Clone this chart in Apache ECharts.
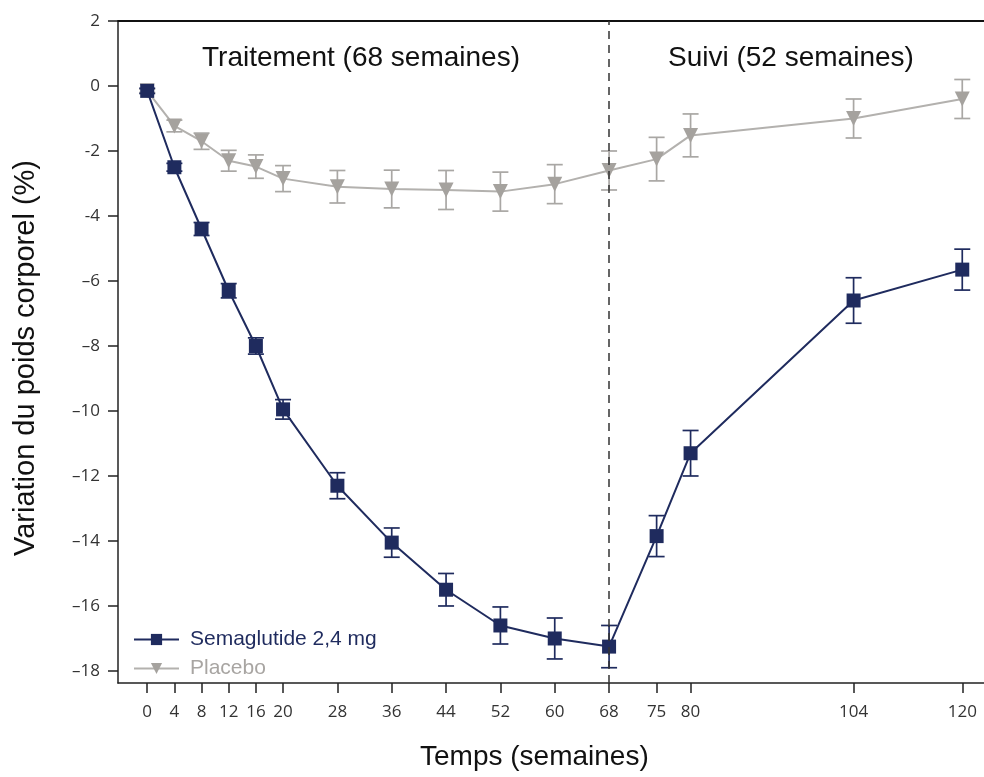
<!DOCTYPE html>
<html>
<head>
<meta charset="utf-8">
<script src="https://cdn.jsdelivr.net/npm/echarts@6/dist/echarts.min.js"></script>
<style>
  html, body { margin: 0; padding: 0; background: #fff; }
  #chart { width: 984px; height: 777px; }
</style>
</head>
<body>
<div id="chart"></div>
<script>
// semaines
var weeks = [0, 4, 8, 12, 16, 20, 28, 36, 44, 52, 60, 68, 75, 80, 104, 120];
var xTicks = [0, 4, 8, 12, 16, 20, 28, 36, 44, 52, 60, 68, 75, 80, 104, 120];
var yTicks = [2, 0, -2, -4, -6, -8, -10, -12, -14, -16, -18];

// Semaglutide 2,4 mg
var semaMean = [-0.15, -2.5, -4.4, -6.3, -8.0, -9.95, -12.3, -14.05, -15.5, -16.6, -17.0, -17.25, -13.85, -11.3, -6.6, -5.65];
var semaErr = [0.08, 0.12, 0.2, 0.22, 0.25, 0.3, 0.4, 0.45, 0.5, 0.57, 0.63, 0.65, 0.63, 0.7, 0.7, 0.63];

// Placebo
var placeboMean = [-0.15, -1.23, -1.7, -2.3, -2.48, -2.85, -3.1, -3.17, -3.2, -3.25, -3.02, -2.6, -2.25, -1.52, -1.0, -0.4];
var placeboErr = [0.05, 0.18, 0.25, 0.32, 0.36, 0.4, 0.5, 0.58, 0.6, 0.6, 0.6, 0.6, 0.67, 0.66, 0.6, 0.6];

var navy = '#1f2b5e';
var grey = '#a9a7a4';

function pairs(ys) {
  return weeks.map(function (w, i) { return [w, ys[i]]; });
}
function errData(ys, es) {
  return weeks.map(function (w, i) { return [w, ys[i] - es[i], ys[i] + es[i]]; });
}
function errorBars(color) {
  return function (params, api) {
    var lo = api.coord([api.value(0), api.value(1)]);
    var hi = api.coord([api.value(0), api.value(2)]);
    var half = 8;
    var st = { stroke: color, lineWidth: 1.7 };
    return {
      type: 'group',
      children: [
        { type: 'line', shape: { x1: lo[0], y1: lo[1], x2: hi[0], y2: hi[1] }, style: st },
        { type: 'line', shape: { x1: lo[0] - half, y1: lo[1], x2: lo[0] + half, y2: lo[1] }, style: st },
        { type: 'line', shape: { x1: hi[0] - half, y1: hi[1], x2: hi[0] + half, y2: hi[1] }, style: st }
      ]
    };
  };
}

var chart = echarts.init(document.getElementById('chart'));
var tickFont = 'Open Sans, DejaVu Sans, sans-serif';
var titleFont = '28px Liberation Sans, Arial, sans-serif';

var option = {
  animation: false,
  backgroundColor: '#fff',
  grid: { left: 118, top: 21, right: 0, bottom: 94 },
  legend: {
    orient: 'vertical',
    left: 128,
    top: 624,
    itemWidth: 45,
    itemHeight: 14,
    itemGap: 8,
    textStyle: { fontSize: 21, fontFamily: 'Liberation Sans, Arial, sans-serif', padding: [0, 0, 0, 6] },
    data: [
      { name: 'Semaglutide 2,4 mg', textStyle: { color: navy } },
      { name: 'Placebo', textStyle: { color: '#a8a5a2' } }
    ]
  },
  graphic: [
    { type: 'text', left: 202, top: 44, style: { text: 'Traitement (68 semaines)', fill: '#111', font: titleFont } },
    { type: 'text', left: 668, top: 44, style: { text: 'Suivi (52 semaines)', fill: '#111', font: titleFont } },
    { type: 'text', left: 420, top: 743, style: { text: 'Temps (semaines)', fill: '#111', font: titleFont } },
    { type: 'text', x: 26, y: 358, rotation: Math.PI / 2, style: { text: 'Variation du poids corporel (%)', fill: '#111', font: '29px Liberation Sans, Arial, sans-serif', align: 'center', verticalAlign: 'middle' } }
  ],
  xAxis: [
    {
      type: 'value',
      min: -4.3,
      max: 123.2,
      splitLine: { show: false },
      axisLine: { onZero: false, lineStyle: { color: '#222', width: 1.5 } },
      axisTick: { customValues: xTicks, length: 10, lineStyle: { color: '#222', width: 1.5 } },
      axisLabel: { customValues: xTicks, fontSize: 17, color: '#333', margin: 21, fontFamily: tickFont }
    },
    {
      type: 'value',
      position: 'top',
      min: -4.3,
      max: 123.2,
      splitLine: { show: false },
      axisLine: { show: true, onZero: false, lineStyle: { color: '#111', width: 2 } },
      axisTick: { show: false },
      axisLabel: { show: false }
    }
  ],
  yAxis: {
    type: 'value',
    min: -18.37,
    max: 2,
    splitLine: { show: false },
    axisLine: { show: true, onZero: false, lineStyle: { color: '#222', width: 1.5 } },
    axisTick: { show: true, customValues: yTicks, length: 10, lineStyle: { color: '#222', width: 1.5 } },
    axisLabel: {
      customValues: yTicks,
      fontSize: 17,
      color: '#333',
      margin: 18,
      fontFamily: tickFont,
      formatter: function (v) {
        if (v >= -4) return String(v);
        return '\u2013' + Math.abs(v);
      }
    }
  },
  series: [
    {
      name: 'placeboErr',
      type: 'custom',
      renderItem: errorBars(grey),
      data: errData(placeboMean, placeboErr),
      encode: { x: 0, y: [1, 2] },
      z: 1
    },
    {
      name: 'Placebo',
      type: 'line',
      data: pairs(placeboMean),
      symbol: 'triangle',
      symbolRotate: 180,
      symbolSize: 15,
      lineStyle: { color: '#b3b1ae', width: 2 },
      itemStyle: { color: '#a5a29e' },
      z: 2,
      markLine: {
        silent: true,
        symbol: 'none',
        label: { show: false },
        lineStyle: { color: '#333', type: [8, 6], width: 1.5 },
        data: [{ xAxis: 68 }]
      }
    },
    {
      name: 'semaErr',
      type: 'custom',
      renderItem: errorBars(navy),
      data: errData(semaMean, semaErr),
      encode: { x: 0, y: [1, 2] },
      z: 3
    },
    {
      name: 'Semaglutide 2,4 mg',
      type: 'line',
      data: pairs(semaMean),
      symbol: 'rect',
      symbolSize: 14,
      lineStyle: { color: navy, width: 2 },
      itemStyle: { color: navy },
      z: 4
    }
  ]
};
chart.setOption(option);
</script>
</body>
</html>
